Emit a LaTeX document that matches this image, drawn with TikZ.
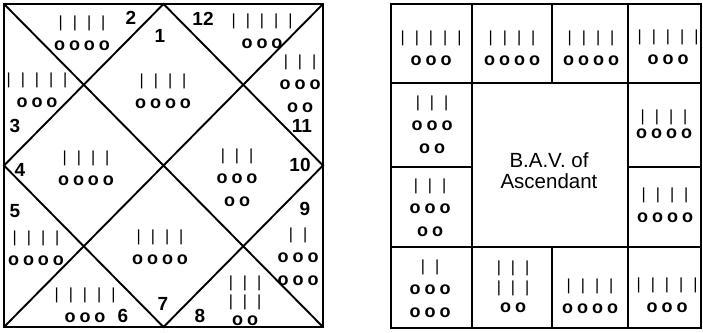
\documentclass[tikz,border=0pt]{standalone}
\usepackage{fontspec}
\setmainfont{Liberation Sans}
\tikzset{
  chartline/.style={draw=black,line width=1.9pt,line join=miter},
  gridline/.style={draw=black,line width=1.2pt},
  tally/.style={inner sep=0pt,align=center,font=\fontsize{13}{23}\selectfont},
  housenum/.style={inner sep=0pt,font=\fontsize{19}{20}\selectfont\bfseries},
  caption/.style={inner sep=0pt,align=center,font=\fontsize{20.5}{21}\selectfont}
}
\newcommand{\bars}[1]{{\fontsize{16}{23}\selectfont\foreach \k in {1,...,#1}{\ifnum\k>1 \hspace{10pt}\fi|}}}
\newcommand{\rings}[1]{{\fontsize{18}{23}\selectfont\bfseries\foreach \k in {1,...,#1}{\ifnum\k>1 \hspace{4pt}\fi o}}}
\newcommand{\tallynode}[4][]{%
  \node[tally,#1] (#2) at (#3) {#4};%
}

\begin{document}
\begin{tikzpicture}[x=1pt,y=-1pt]
  \useasboundingbox (0,0) rectangle (703,332);

  % rasi chart
  \coordinate (nw) at (4,4);      \coordinate (ne) at (323,4);
  \coordinate (se) at (323,327);  \coordinate (sw) at (4,327);
  \coordinate (n) at (163.5,4);   \coordinate (e) at (323,165.5);
  \coordinate (s) at (163.5,327); \coordinate (w) at (4,165.5);
  \draw[chartline] (nw) rectangle (se);
  \draw[chartline] (nw) -- (se) (ne) -- (sw);
  \draw[chartline] (n) -- (e) -- (s) -- (w) -- cycle;

  \foreach \n/\pos in {1/{160,36},2/{131,18},3/{15,126},4/{20,170},5/{15,211},6/{123,316},
                       7/{163,304},8/{200,316},9/{305,209},10/{300,165},11/{302,126},12/{203,19}}
    \node[housenum] (num\n) at (\pos) {\n};

  \tallynode{h1}{163,91}{\bars{4}\\\rings{4}}
  \tallynode{h2}{82,33}{\bars{4}\\\rings{4}}
  \tallynode{h3}{37,90.5}{\bars{5}\\\rings{3}}
  \tallynode{h4}{86,168.5}{\bars{4}\\\rings{4}}
  \tallynode{h5}{36,248.5}{\bars{4}\\\rings{4}}
  \tallynode{h6}{85,305}{\bars{5}\\\rings{3}}
  \tallynode{h7}{160,247}{\bars{4}\\\rings{4}}
  \tallynode[font=\fontsize{13}{19}\selectfont]{h8}{245,300.5}{\bars{3}\\\bars{3}\\\rings{2}}
  \tallynode{h9}{298,257}{\bars{2}\\\rings{3}\\\rings{3}}
  \tallynode{h10}{237,177.5}{\bars{3}\\\rings{3}\\\rings{2}}
  \tallynode{h11}{300,83.5}{\bars{3}\\\rings{3}\\\rings{2}}
  \tallynode{h12}{262,31.5}{\bars{5}\\\rings{3}}

  % ashtakavarga grid
  \draw[gridline] (391,4) rectangle (701,328);
  \foreach \y in {83,247}
    \draw[gridline] (391,\y) -- (701,\y);
  \foreach \x in {472,628}
    \draw[gridline] (\x,4) -- (\x,328);
  \draw[gridline] (552,4) -- (552,83) (552,247) -- (552,328);
  \draw[gridline] (391,167) -- (472,167) (628,167) -- (701,167);

  \tallynode{r1c1}{431,48.5}{\bars{5}\\\rings{3}}
  \tallynode{r1c2}{512,48.5}{\bars{4}\\\rings{4}}
  \tallynode{r1c3}{591,48.5}{\bars{4}\\\rings{4}}
  \tallynode{r1c4}{668,47}{\bars{5}\\\rings{3}}
  \tallynode{r2c1}{432,125}{\bars{3}\\\rings{3}\\\rings{2}}
  \tallynode[font=\fontsize{13}{17}\selectfont]{r2c4}{664,124}{\bars{4}\\\rings{4}}
  \tallynode{r3c1}{430,207.5}{\bars{3}\\\rings{3}\\\rings{2}}
  \tallynode{r3c4}{665,205}{\bars{4}\\\rings{4}}
  \tallynode{r4c1}{430,288.5}{\bars{2}\\\rings{3}\\\rings{3}}
  \tallynode[font=\fontsize{13}{20}\selectfont]{r4c2}{513,287}{\bars{3}\\\bars{3}\\\rings{2}}
  \tallynode{r4c3}{590,296}{\bars{4}\\\rings{4}}
  \tallynode{r4c4}{667,295}{\bars{5}\\\rings{3}}

  \node[caption] (bav) at (549,170.5) {B.A.V. of\\Ascendant};
\end{tikzpicture}
\end{document}
